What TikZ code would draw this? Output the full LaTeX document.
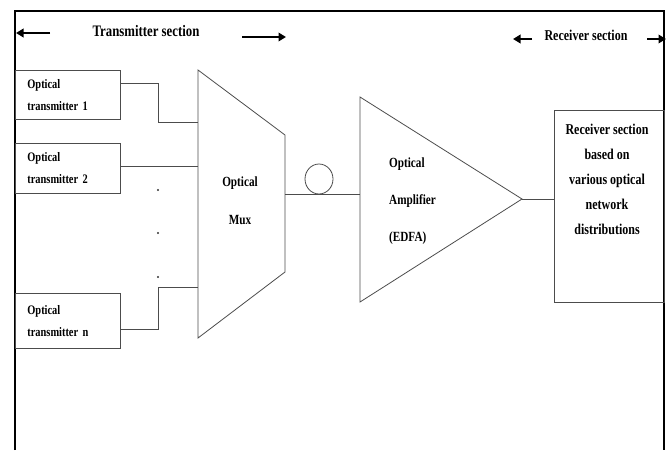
\documentclass[tikz,border=0pt]{standalone}
\usepackage{fontspec}
\setmainfont[FakeStretch=0.8]{Liberation Serif}
\usetikzlibrary{arrows.meta}
\begin{document}
\begin{tikzpicture}[x=1pt,y=-1pt,
  thin line/.style={draw=black!70,line width=0.8pt},
  frame line/.style={draw=black,line width=2pt},
  sect arrow/.style={draw=black,line width=2pt,-{Triangle[length=7.5pt,width=8.5pt]}},
  txbox/.style={thin line,rectangle,anchor=north west,minimum width=105pt,minimum height=49pt,
     text width=81pt,inner xsep=12pt,align=left,font=\fontsize{13}{22}\selectfont\bfseries},
  lbl/.style={inner sep=0pt,font=\bfseries}
]
\useasboundingbox (0,0) rectangle (668,450);
% frame
\draw[frame line] (15,450) -- (15,11) -- (664,11) -- (664,450);
% section labels
\node[lbl,font=\fontsize{16}{18}\selectfont\bfseries] (txlabel) at (146,31) {Transmitter section};
\coordinate (txL1) at (50,33); \coordinate (txL2) at (16,33);
\coordinate (txR1) at (242,37); \coordinate (txR2) at (286,37);
\draw[sect arrow] (txL1) -- (txL2);
\draw[sect arrow] (txR1) -- (txR2);
\node[lbl,font=\fontsize{15}{18}\selectfont\bfseries] (rxlabel) at (586,35) {Receiver section};
\coordinate (rxL1) at (532,39); \coordinate (rxL2) at (513,39);
\coordinate (rxR1) at (647,39); \coordinate (rxR2) at (666,39);
\draw[sect arrow] (rxL1) -- (rxL2);
\draw[sect arrow] (rxR1) -- (rxR2);
% transmitters
\node[txbox] (tx1) at (15,70) {Optical\\transmitter 1};
\node[txbox,minimum height=50pt] (tx2) at (15,143) {Optical\\transmitter 2};
\node[txbox,minimum height=55pt] (txn) at (15,293) {Optical\\transmitter n};
% mux
\coordinate (muxTL) at (198,70);
\coordinate (muxTR) at (285,135);
\coordinate (muxBR) at (285,272);
\coordinate (muxBL) at (198,338);
\draw[thin line] (muxTL) -- (muxTR) -- (muxBR) -- (muxBL) -- cycle;
\node[lbl,align=center,font=\fontsize{14}{38}\selectfont\bfseries] (muxtext) at (240,201) {Optical\\Mux};
% wires from transmitters
\coordinate (in1) at (198,122);
\coordinate (in2) at (198,166);
\coordinate (inn) at (198,287);
\draw[thin line] (tx1.east |- 0,83) -| (158,122) -- (in1);
\draw[thin line] (tx2.east |- 0,166) -- (in2);
\draw[thin line] (txn.east |- 0,329) -| (158,287) -- (inn);
% dots
\foreach \yy [count=\i] in {190,233,277}
  \fill[black!80] (158,\yy) circle (1.1pt);
% fibre
\coordinate (muxout) at (285,194);
\coordinate (ampin) at (360,194);
\draw[thin line] (muxout) -- (ampin);
\draw[thin line] (319,179) ellipse (14pt and 15pt);
% amplifier
\coordinate (ampT) at (360,97);
\coordinate (ampB) at (360,302);
\coordinate (ampA) at (522,199);
\draw[thin line] (ampT) -- (ampA) -- (ampB) -- cycle;
\node[lbl,align=left,anchor=west,font=\fontsize{14}{37}\selectfont\bfseries] (amptext) at (389,201) {Optical\\Amplifier\\(EDFA)};
% receiver
\node[thin line,rectangle,anchor=north west,minimum width=110pt,minimum height=192pt] (rx) at (554,110) {};
\node[lbl,align=center,font=\fontsize{15}{25}\selectfont\bfseries] (rxtext) at (607,179) {Receiver section\\based on\\various optical\\network\\distributions};
\draw[thin line] (ampA) -- (rx.west |- ampA);
\end{tikzpicture}
\end{document}
